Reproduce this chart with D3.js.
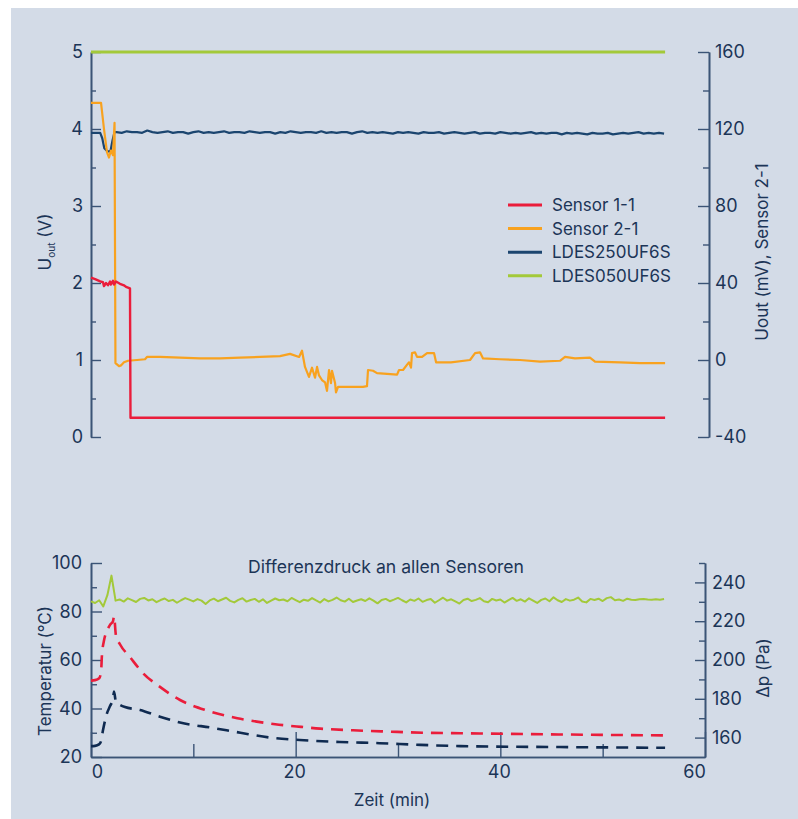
<!DOCTYPE html>
<html>
<head>
<meta charset="utf-8">
<script src="https://cdn.jsdelivr.net/npm/d3@7"></script>
<style>
  body { margin: 0; background: #ffffff; }
  text { font-family: Inter, "Noto Sans", sans-serif; fill: #1c3557; }
</style>
</head>
<body>
<div id="chart"></div>
<script>
/*
    DATA
*/
// top chart, time in minutes
let sensor11Time = [0, 0.4, 0.9, 1.17, 1.27, 1.47, 1.66, 1.86, 1.95, 2.15, 2.25, 2.44, 2.83, 3.22, 3.42, 3.81, 3.86, 56.1];
let sensor11Volt = [2.07, 2.05, 2.02, 2.01, 1.96, 2.0, 1.97, 2.02, 1.98, 2.03, 1.98, 2.02, 1.99, 1.97, 1.95, 1.93, 0.25, 0.25];

let sensor21Time = [0, 0.98, 1.27, 1.56, 1.76, 1.95, 2.15, 2.3, 2.39, 2.74, 2.93, 3.22, 3.62, 4.5, 5.28, 5.47, 6.74, 8.7, 10.65, 12.61, 14.56, 16.52, 18.47, 19.45, 20.33, 20.62, 20.91, 21.3, 21.6, 21.89, 22.09, 22.28, 22.57, 22.87, 23.06, 23.26, 23.45, 23.55, 23.85, 23.94, 24.14, 25.31, 26.58, 26.97, 27.07, 27.56, 27.95, 29.91, 30.1, 30.49, 30.89, 31.08, 31.27, 31.37, 31.66, 31.86, 32.35, 32.84, 33.52, 33.72, 35.18, 37.04, 37.53, 38.01, 38.31, 39.97, 41.92, 43.88, 45.83, 46.32, 47.3, 48.76, 49.25, 51.7, 53.65, 56.1];
let sensor21mV = [133.6, 133.6, 120, 108, 105.2, 108.8, 106.4, 123.2, -1.6, -3.2, -2.8, -1.2, -0.4, 0, 0.4, 1.6, 1.6, 1.2, 0.8, 0.8, 1.2, 1.6, 2.0, 3.2, 1.6, 4.8, -3.6, -8.8, -4.0, -9.2, -3.6, -8.0, -10.4, -11.6, -16.0, -5.2, -12.0, -5.6, -12.0, -16.8, -14.0, -14.0, -14.0, -13.6, -5.2, -5.6, -6.8, -7.6, -5.2, -5.2, -2.4, -1.2, -4.0, 3.6, 4.0, 1.6, 1.6, 3.6, 3.6, -1.2, -1.2, 0, 3.6, 4.0, 0.8, 0.4, 0, -0.8, -0.4, 1.6, 0.8, 1.2, -0.8, -1.2, -1.6, -1.6];

let ldes250DipTime = [0, 0.9, 1.1, 1.3, 1.6, 1.9, 2.1, 2.3];
let ldes250DipVolt = [3.95, 3.95, 3.88, 3.75, 3.71, 3.71, 3.85, 3.96];
let ldes250Start = 2.5;
let ldes250Step = 0.5;
let ldes250Volt = [3.96, 3.95, 3.97, 3.96, 3.96, 3.95, 3.98, 3.96, 3.95, 3.96, 3.97, 3.95, 3.96, 3.96, 3.94, 3.96, 3.97, 3.95, 3.96, 3.95, 3.96, 3.97, 3.95, 3.96, 3.96, 3.95, 3.97, 3.96, 3.95, 3.96, 3.96, 3.94, 3.96, 3.95, 3.97, 3.96, 3.95, 3.96, 3.96, 3.95, 3.97, 3.95, 3.96, 3.95, 3.96, 3.96, 3.94, 3.96, 3.97, 3.95, 3.96, 3.95, 3.96, 3.95, 3.94, 3.96, 3.95, 3.96, 3.95, 3.94, 3.96, 3.95, 3.95, 3.96, 3.94, 3.95, 3.96, 3.95, 3.94, 3.95, 3.96, 3.94, 3.95, 3.95, 3.94, 3.96, 3.95, 3.94, 3.95, 3.94, 3.95, 3.96, 3.94, 3.95, 3.94, 3.95, 3.95, 3.93, 3.95, 3.94, 3.95, 3.94, 3.93, 3.95, 3.94, 3.94, 3.95, 3.93, 3.94, 3.95, 3.94, 3.95, 3.96, 3.94, 3.95, 3.94, 3.95, 3.94, 3.95, 3.95];

let ldes050Time = [0, 56.1];
let ldes050Volt = [5.0, 5.0];

let legendNames = ["Sensor 1-1", "Sensor 2-1", "LDES250UF6S", "LDES050UF6S"];

// bottom chart
let dpStep = 0.4;
let dpPa = [230.2, 229.4, 230.8, 227.6, 233.4, 243.5, 230.6, 231.2, 230.1, 231.8, 230.9, 229.9, 231.5, 232.0, 230.7, 231.3, 229.8, 230.9, 231.7, 230.4, 231.0, 229.5, 230.8, 231.9, 231.1, 230.2, 231.4, 230.6, 228.9, 230.7, 231.6, 230.3, 231.2, 232.1, 230.5, 229.7, 231.0, 231.8, 230.1, 230.9, 231.5, 230.0, 231.3, 229.4, 230.6, 231.7, 230.8, 231.2, 230.3, 232.0, 230.9, 229.8, 231.1, 230.5, 231.9, 230.7, 229.6, 231.4, 230.2, 231.0, 232.2, 230.8, 230.1, 231.6, 229.9, 230.7, 231.3, 230.4, 231.8, 230.6, 229.2, 230.9, 231.5, 230.3, 231.1, 232.0, 230.8, 229.7, 231.2, 230.5, 231.7, 230.0, 230.9, 231.4, 229.5, 230.8, 232.1, 230.6, 231.3, 230.2, 229.1, 230.9, 231.6, 230.4, 231.0, 231.9, 230.3, 229.8, 231.5, 230.7, 231.2, 229.6, 230.9, 232.0, 230.5, 231.3, 230.1, 231.8, 230.6, 229.4, 231.0, 231.7, 230.3, 232.3, 230.8, 229.9, 231.4, 230.6, 231.1, 232.2, 230.2, 229.7, 231.5, 230.9, 231.6, 230.4, 231.9, 232.4, 230.8, 231.2, 230.5, 231.6, 231.1, 230.9, 231.3, 231.5, 231.2, 231.0, 231.3, 231.1, 231.4];

let temp11Time = [0, 0.4, 0.8, 0.98, 1.07, 1.27, 1.56, 1.86, 2.15, 2.25, 2.44, 2.83, 3.81, 5.08, 6.74, 8.7, 11.3, 14.3, 16.2, 18.0, 20.1, 22.4, 25.6, 28.9, 32.4, 36.1, 45.8, 56.1];
let temp11C = [51.5, 51.7, 52.5, 55, 62, 68, 72, 74.5, 76, 78, 70, 66.5, 61.2, 54.6, 48.9, 43.5, 39.2, 36.0, 34.6, 33.5, 32.6, 31.7, 31.0, 30.5, 30.0, 29.8, 29.3, 28.9];

let temp250Time = [0, 0.4, 0.78, 0.98, 1.17, 1.56, 1.86, 2.15, 2.25, 2.44, 2.83, 3.32, 4.79, 6.74, 8.7, 11.9, 14.6, 17.5, 20.4, 24.3, 28.2, 32.2, 36.1, 45.8, 56.1];
let temp250C = [24.5, 24.6, 25.2, 26.5, 31, 38, 41, 44, 47, 42.5, 41.5, 40.6, 39.4, 36.6, 34.2, 32.0, 30.0, 28.0, 27.0, 26.2, 25.7, 25.0, 24.5, 24.1, 23.8];

let topLeftTicks = [0, 1, 2, 3, 4, 5];
let topLeftMinor = [0.5, 1.5, 2.5, 3.5, 4.5];
let topRightTicks = [-40, 0, 40, 80, 120, 160];
let topRightMinor = [-20, 20, 60, 100, 140];
let botLeftTicks = [20, 40, 60, 80, 100];
let botLeftMinor = [30, 50, 70, 90];
let botRightTicks = [160, 180, 200, 220, 240];
let botRightMinor = [170, 190, 210, 230, 250];
let timeTicks = [0, 20, 40, 60];
let timeMinor = [10, 30, 50];

/*
    CONSTANTS
*/
let SIZE = { width: 798, height: 819 };
let COLORS = { bg: "#d3dbe7", axis: "#3b5476", red: "#ea1d3b", orange: "#f8a21f", navy: "#1b456f", navyDark: "#0f2a50", green: "#a3c93a" };
let TOP = { top: 52, bot: 437, left: 91, right: 709 };
let BOT = { top: 563, bot: 757, left: 91, right: 705 };
let T_END = 56.1;

let svg = d3.select("#chart").append("svg")
    .attr("width", SIZE.width)
    .attr("height", SIZE.height);

svg.append("rect")
    .attr("x", 11).attr("y", 8)
    .attr("width", SIZE.width - 11).attr("height", SIZE.height - 8)
    .attr("fill", COLORS.bg);

let x = d3.scaleLinear().domain([0, 60]).range([91, 705]);
let yVolt = d3.scaleLinear().domain([0, 5]).range([TOP.bot, TOP.top]);
let ymV = d3.scaleLinear().domain([-40, 160]).range([TOP.bot, TOP.top]);
let yTemp = d3.scaleLinear().domain([20, 100]).range([BOT.bot, BOT.top]);
let yPa = d3.scaleLinear().domain([150, 250]).range([BOT.bot, BOT.top]);

function zip(ts, vs) { return ts.map((t, i) => [t, vs[i]]); }

function drawAxis(axis, tx, ty) {
    let g = svg.append("g").attr("transform", `translate(${tx},${ty})`).call(axis);
    g.select(".domain").attr("stroke", COLORS.axis).attr("stroke-width", 1.6);
    g.selectAll(".tick line").attr("stroke", COLORS.axis).attr("stroke-width", 1.4);
    g.selectAll(".tick text").style("font-size", "18px").attr("fill", "#1c3557");
    return g;
}

/*
    TOP CHART
*/
drawAxis(d3.axisLeft(yVolt).tickValues(topLeftMinor).tickFormat("").tickSizeInner(-5).tickSizeOuter(0), TOP.left, 0);
drawAxis(d3.axisLeft(yVolt).tickValues(topLeftTicks).tickFormat(d3.format("d")).tickSizeInner(-10).tickSizeOuter(0).tickPadding(8), TOP.left, 0);
drawAxis(d3.axisRight(ymV).tickValues(topRightMinor).tickFormat("").tickSizeInner(-6).tickSizeOuter(0), TOP.right, 0);
drawAxis(d3.axisRight(ymV).tickValues(topRightTicks).tickFormat(d3.format("d")).tickSizeInner(-11).tickSizeOuter(0).tickPadding(6), TOP.right, 0)
    .selectAll(".tick text").text(d => d < 0 ? "-" + Math.abs(d) : d);

let lineVolt = d3.line().x(d => x(d[0])).y(d => yVolt(d[1]));
let linemV = d3.line().x(d => x(d[0])).y(d => ymV(d[1]));

let ldes250 = zip(ldes250DipTime, ldes250DipVolt)
    .concat(ldes250Volt.map((v, i) => [ldes250Start + i * ldes250Step, v]))
    .filter(d => d[0] <= T_END);

svg.append("path").attr("d", lineVolt(zip(ldes050Time, ldes050Volt)))
    .attr("fill", "none").attr("stroke", COLORS.green).attr("stroke-width", 3);
svg.append("path").attr("d", lineVolt(ldes250))
    .attr("fill", "none").attr("stroke", COLORS.navy).attr("stroke-width", 2.2).attr("stroke-linejoin", "round");
svg.append("path").attr("d", linemV(zip(sensor21Time, sensor21mV)))
    .attr("fill", "none").attr("stroke", COLORS.orange).attr("stroke-width", 2.2).attr("stroke-linejoin", "round");
svg.append("path").attr("d", lineVolt(zip(sensor11Time, sensor11Volt)))
    .attr("fill", "none").attr("stroke", COLORS.red).attr("stroke-width", 2.4).attr("stroke-linejoin", "round");

// legend
let legendColors = [COLORS.red, COLORS.orange, COLORS.navy, COLORS.green];
let legend = svg.append("g").attr("transform", "translate(508,205)");
legend.selectAll("line").data(legendNames).enter().append("line")
    .attr("x1", 0).attr("x2", 34)
    .attr("y1", (d, i) => i * 23.6).attr("y2", (d, i) => i * 23.6)
    .attr("stroke", (d, i) => legendColors[i]).attr("stroke-width", 3);
legend.selectAll("text").data(legendNames).enter().append("text")
    .attr("x", 44).attr("y", (d, i) => i * 23.6)
    .attr("dy", "0.36em")
    .style("font-size", "17px")
    .text(d => d);

// axis titles
let leftTitle = svg.append("text")
    .attr("transform", "translate(51,242) rotate(-90)")
    .attr("text-anchor", "middle")
    .style("font-size", "17px");
leftTitle.append("tspan").text("U");
leftTitle.append("tspan").attr("dy", 4).style("font-size", "10px").text("out");
leftTitle.append("tspan").attr("dy", -4).text(" (V)");

svg.append("text")
    .attr("transform", "translate(768,252) rotate(-90)")
    .attr("text-anchor", "middle")
    .style("font-size", "17px")
    .text("Uout (mV), Sensor 2-1");

/*
    BOTTOM CHART
*/
drawAxis(d3.axisLeft(yTemp).tickValues(botLeftMinor).tickFormat("").tickSizeInner(-6).tickSizeOuter(0), BOT.left, 0);
drawAxis(d3.axisLeft(yTemp).tickValues(botLeftTicks).tickFormat(d3.format("d")).tickSizeInner(-11).tickSizeOuter(0).tickPadding(9), BOT.left, 0);
drawAxis(d3.axisRight(yPa).tickValues(botRightMinor).tickFormat("").tickSizeInner(-6).tickSizeOuter(0), BOT.right, 0);
drawAxis(d3.axisRight(yPa).tickValues(botRightTicks).tickFormat(d3.format("d")).tickSizeInner(-10).tickSizeOuter(0).tickPadding(7), BOT.right, 0);
drawAxis(d3.axisBottom(x).tickValues(timeMinor).tickFormat("").tickSizeInner(-13).tickSizeOuter(0), 0, BOT.bot);
let xAxisG = drawAxis(d3.axisBottom(x).tickValues(timeTicks).tickFormat(d3.format("d")).tickSizeInner(-25).tickSizeOuter(0).tickPadding(8), 0, BOT.bot);
xAxisG.selectAll(".tick text")
    .attr("dx", d => d === 0 ? 6 : d === 60 ? -11 : -1.5);

let lineTemp = d3.line().x(d => x(d[0])).y(d => yTemp(d[1])).curve(d3.curveMonotoneX);
let linePa = d3.line().x(d => x(d[0])).y(d => yPa(d[1]));

svg.append("path").attr("d", linePa(dpPa.map((v, i) => [i * dpStep, v]).filter(d => d[0] <= T_END)))
    .attr("fill", "none").attr("stroke", COLORS.green).attr("stroke-width", 2).attr("stroke-linejoin", "round");
svg.append("path").attr("d", lineTemp(zip(temp11Time, temp11C)))
    .attr("fill", "none").attr("stroke", COLORS.red).attr("stroke-width", 2.6).attr("stroke-dasharray", "12,8");
svg.append("path").attr("d", lineTemp(zip(temp250Time, temp250C)))
    .attr("fill", "none").attr("stroke", COLORS.navyDark).attr("stroke-width", 2.6).attr("stroke-dasharray", "12,8");

svg.append("text")
    .attr("x", 386).attr("y", 573)
    .attr("text-anchor", "middle")
    .style("font-size", "17.6px")
    .text("Differenzdruck an allen Sensoren");

svg.append("text")
    .attr("transform", "translate(51,671) rotate(-90)")
    .attr("text-anchor", "middle")
    .style("font-size", "17px")
    .text("Temperatur (°C)");

svg.append("text")
    .attr("transform", "translate(769,668) rotate(-90)")
    .attr("text-anchor", "middle")
    .style("font-size", "17px")
    .text("Δp (Pa)");

svg.append("text")
    .attr("x", 392).attr("y", 806)
    .attr("text-anchor", "middle")
    .style("font-size", "17px")
    .text("Zeit (min)");
</script>
</body>
</html>
